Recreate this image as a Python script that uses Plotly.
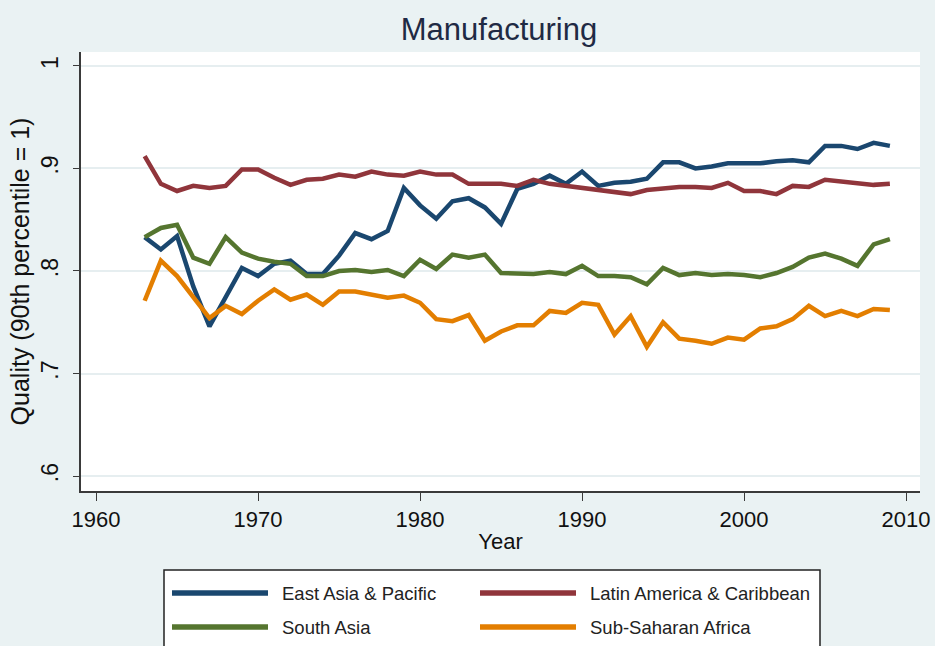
import plotly.graph_objects as go

# Regional manufacturing quality series, 1963-2009
years = list(range(1963, 2010))

east_asia = [0.833, 0.821, 0.834, 0.785, 0.746, 0.774, 0.803, 0.795, 0.807, 0.810,
             0.797, 0.797, 0.815, 0.837, 0.831, 0.839, 0.881, 0.864, 0.851, 0.868,
             0.871, 0.862, 0.846, 0.880, 0.885, 0.893, 0.885, 0.897, 0.883, 0.886,
             0.887, 0.890, 0.906, 0.906, 0.900, 0.902, 0.905, 0.905, 0.905, 0.907,
             0.908, 0.906, 0.922, 0.922, 0.919, 0.925, 0.922]

latin_america = [0.912, 0.885, 0.878, 0.883, 0.881, 0.883, 0.899, 0.899, 0.891, 0.884,
                 0.889, 0.890, 0.894, 0.892, 0.897, 0.894, 0.893, 0.897, 0.894, 0.894,
                 0.885, 0.885, 0.885, 0.883, 0.889, 0.885, 0.883, 0.881, 0.878, 0.877,
                 0.875, 0.879, 0.881, 0.882, 0.882, 0.881, 0.886, 0.878, 0.878, 0.875,
                 0.883, 0.882, 0.889, 0.887, 0.885, 0.884, 0.885]

south_asia = [0.833, 0.842, 0.845, 0.813, 0.807, 0.833, 0.818, 0.812, 0.809, 0.807,
              0.795, 0.795, 0.800, 0.801, 0.799, 0.801, 0.795, 0.811, 0.802, 0.816,
              0.813, 0.816, 0.798, 0.798, 0.797, 0.799, 0.797, 0.805, 0.795, 0.795,
              0.794, 0.787, 0.803, 0.796, 0.798, 0.796, 0.797, 0.796, 0.794, 0.798,
              0.804, 0.813, 0.817, 0.812, 0.805, 0.826, 0.831]

sub_saharan = [0.771, 0.810, 0.795, 0.774, 0.754, 0.766, 0.758, 0.771, 0.782, 0.772,
               0.777, 0.767, 0.780, 0.780, 0.777, 0.774, 0.776, 0.769, 0.753, 0.751,
               0.757, 0.732, 0.741, 0.747, 0.747, 0.761, 0.759, 0.769, 0.767, 0.738,
               0.756, 0.726, 0.750, 0.734, 0.732, 0.729, 0.735, 0.733, 0.744, 0.746,
               0.753, 0.766, 0.756, 0.761, 0.756, 0.763, 0.762]

series_names = ["East Asia & Pacific", "Latin America & Caribbean",
                "South Asia", "Sub-Saharan Africa"]
series_values = [east_asia, latin_america, south_asia, sub_saharan]
series_colors = ["#1a476f", "#90353b", "#55752f", "#e37e00"]

y_ticks = [0.6, 0.7, 0.8, 0.9, 1.0]
y_tick_labels = [".6", ".7", ".8", ".9", "1"]
x_ticks = [1960, 1970, 1980, 1990, 2000, 2010]

FONT = "Liberation Sans, Arial, sans-serif"
BG = "#eaf2f3"
AXIS = "#3a3a3a"

fig = go.Figure()
for name, vals, col in zip(series_names, series_values, series_colors):
    fig.add_trace(go.Scatter(x=years, y=vals, mode="lines", name=name,
                             line=dict(color=col, width=4.5),
                             showlegend=False))

# Plot geometry (pixels) used for the hand-built legend box
W, H = 935, 646
ML, MR, MT, MB = 81, 15, 52, 155
pw, ph = W - ML - MR, H - MT - MB


def px(x):
    return (x - ML) / pw


def py(y):
    return (H - MB - y) / ph


shapes = [dict(type="rect", xref="paper", yref="paper",
               x0=px(164), x1=px(820), y0=py(660), y1=py(570),
               line=dict(color="#222222", width=1.5), fillcolor="white",
               layer="above")]
annotations = []
legend_pos = [(172, 593), (480, 593), (172, 627), (480, 627)]
for (lx, ly), name, col in zip(legend_pos, series_names, series_colors):
    shapes.append(dict(type="line", xref="paper", yref="paper",
                       x0=px(lx), x1=px(lx + 96), y0=py(ly), y1=py(ly),
                       line=dict(color=col, width=5.5), layer="above"))
    annotations.append(dict(xref="paper", yref="paper", x=px(lx + 108), y=py(ly),
                            text=name, showarrow=False, xanchor="left",
                            yanchor="middle",
                            font=dict(family=FONT, size=18.5, color="#222222")))

fig.update_layout(
    width=W, height=H,
    margin=dict(l=ML, r=MR, t=MT, b=MB, pad=0),
    paper_bgcolor=BG, plot_bgcolor="white",
    font=dict(family=FONT, color="#222222"),
    title=dict(text="Manufacturing", x=px(499), xref="paper", xanchor="center",
               y=1 - 29 / H, yanchor="middle",
               font=dict(family=FONT, size=31, color="#1f2a44")),
    shapes=shapes, annotations=annotations,
    showlegend=False,
)

fig.update_xaxes(
    range=[1959.07, 2010.86], tickvals=x_ticks, ticktext=[str(t) for t in x_ticks],
    automargin=False,
    showgrid=False, zeroline=False,
    showline=True, linecolor=AXIS, linewidth=1.5,
    ticks="outside", ticklen=8, tickcolor=AXIS, tickwidth=1.2,
    tickfont=dict(family=FONT, size=22, color="#111111"),
    title=dict(text="Year", font=dict(family=FONT, size=22, color="#111111"),
               standoff=2),
)
fig.update_yaxes(
    range=[0.5854, 1.0136], tickvals=y_ticks, ticktext=y_tick_labels,
    tickangle=-90, automargin=False,
    showgrid=True, gridcolor="#e6eef0", gridwidth=2, zeroline=False,
    showline=True, linecolor=AXIS, linewidth=1.5,
    ticks="outside", ticklen=6, tickcolor=AXIS, tickwidth=1.2,
    ticklabelstandoff=6,
    tickfont=dict(family=FONT, size=23, color="#111111"),
    title=dict(text="Quality (90th percentile = 1)",
               font=dict(family=FONT, size=25, color="#111111"), standoff=0),
)

fig.write_html("out.html")
